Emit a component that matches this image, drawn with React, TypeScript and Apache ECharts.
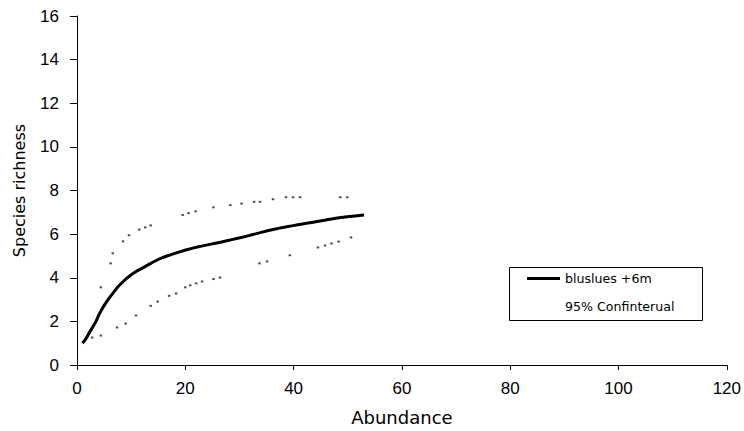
import React, { useEffect, useRef } from "react";
import * as echarts from "echarts";

const xTicks = [0, 20, 40, 60, 80, 100, 120];
const yTicks = [0, 2, 4, 6, 8, 10, 12, 14, 16];

const meanCurve: [number, number][] = [
  [1, 1.0], [1.5, 1.15], [2.2, 1.45], [2.8, 1.7], [3.5, 2.0], [4.1, 2.33],
  [5.2, 2.8], [6.5, 3.25], [8.0, 3.7], [10.2, 4.17], [12.5, 4.5], [15.2, 4.86],
  [17.5, 5.07], [20.1, 5.27], [23.0, 5.45], [26.3, 5.62], [29.5, 5.8],
  [32.5, 5.98], [36.0, 6.2], [39.9, 6.39], [43.0, 6.52], [46.0, 6.65],
  [49.5, 6.78], [53.0, 6.88],
];

const upperCI: [number, number][] = [
  [4.4, 3.56], [6.2, 4.66], [6.6, 5.12], [8.5, 5.67], [9.6, 5.95], [11.5, 6.21],
  [12.6, 6.31], [13.6, 6.4], [19.5, 6.88], [20.6, 6.96], [21.9, 7.04],
  [25.2, 7.23], [28.3, 7.33], [30.4, 7.4], [32.7, 7.48], [33.8, 7.48],
  [36.2, 7.6], [38.6, 7.69], [39.9, 7.69], [41.2, 7.69], [48.6, 7.69], [49.9, 7.69],
];

const lowerCI: [number, number][] = [
  [2.8, 1.26], [4.4, 1.35], [7.4, 1.72], [9.0, 1.9], [10.9, 2.27], [13.6, 2.71],
  [14.9, 2.91], [17.0, 3.17], [18.3, 3.28], [20.0, 3.56], [20.9, 3.65],
  [22.0, 3.74], [23.1, 3.83], [25.2, 3.94], [26.4, 4.01], [33.7, 4.66],
  [35.1, 4.75], [39.3, 5.03], [44.5, 5.39], [45.8, 5.48], [47.0, 5.57],
  [48.3, 5.66], [50.6, 5.85],
];

const seriesNames = ["bluslues +6m", "95% Confinterual"];

export default function App() {
  const ref = useRef<HTMLDivElement>(null);
  useEffect(() => {
    if (!ref.current) return;
    const chart = echarts.init(ref.current, null, { renderer: "svg" });
    const tickFont = "'Liberation Sans', Arial, sans-serif";
    const nameFont = "'DejaVu Sans', sans-serif";
    chart.setOption({
      animation: false,
      backgroundColor: "#fff",
      textStyle: { fontFamily: tickFont, color: "#000" },
      grid: { left: 77, right: 16, top: 16, bottom: 66 },
      graphic: [
        {
          type: "rect",
          left: 509,
          top: 267,
          shape: { x: 0, y: 0, width: 193, height: 53 },
          style: { fill: "#fff", stroke: "#000", lineWidth: 1 },
          z: 10,
        },
      ],
      legend: {
        orient: "vertical",
        left: 527,
        top: 272,
        padding: 0,
        itemGap: 15,
        itemWidth: 33,
        itemHeight: 3,
        z: 20,
        textStyle: { fontSize: 12.6, color: "#000", fontFamily: nameFont },
        data: [
          { name: seriesNames[0], icon: "rect", itemStyle: { color: "#000" } },
          { name: seriesNames[1], icon: "rect", itemStyle: { color: "#fff", opacity: 0 } },
        ],
      },
      xAxis: {
        type: "value",
        min: xTicks[0],
        max: xTicks[xTicks.length - 1],
        interval: 20,
        name: "Abundance",
        nameLocation: "middle",
        nameGap: 43,
        nameTextStyle: { fontSize: 18, color: "#000", fontFamily: nameFont },
        axisLine: { lineStyle: { color: "#000", width: 1 } },
        axisTick: { show: true, length: 5, lineStyle: { color: "#000" } },
        axisLabel: { fontSize: 17, color: "#000", margin: 15 },
        splitLine: { show: false },
      },
      yAxis: {
        type: "value",
        min: yTicks[0],
        max: yTicks[yTicks.length - 1],
        interval: 2,
        name: "Species richness",
        nameLocation: "middle",
        nameGap: 50,
        nameTextStyle: { fontSize: 16, color: "#000", fontFamily: nameFont },
        axisLine: { show: true, lineStyle: { color: "#000", width: 1 } },
        axisTick: { show: true, length: 7, lineStyle: { color: "#000" } },
        axisLabel: { fontSize: 17, color: "#000", margin: 18 },
        splitLine: { show: false },
      },
      series: [
        {
          name: seriesNames[0],
          type: "line",
          data: meanCurve,
          showSymbol: false,
          symbol: "none",
          smooth: true,
          lineStyle: { color: "#000", width: 3 },
          itemStyle: { color: "#000" },
        },
        {
          name: seriesNames[1],
          type: "scatter",
          data: upperCI,
          symbol: "rect",
          symbolSize: [2.5, 2],
          itemStyle: { color: "#222" },
        },
        {
          name: seriesNames[1],
          type: "scatter",
          data: lowerCI,
          symbol: "rect",
          symbolSize: [2.5, 2],
          itemStyle: { color: "#222" },
        },
      ],
    });
    return () => chart.dispose();
  }, []);
  return <div ref={ref} style={{ width: 744, height: 431, position: "absolute", left: 0, top: 0 }} />;
}
